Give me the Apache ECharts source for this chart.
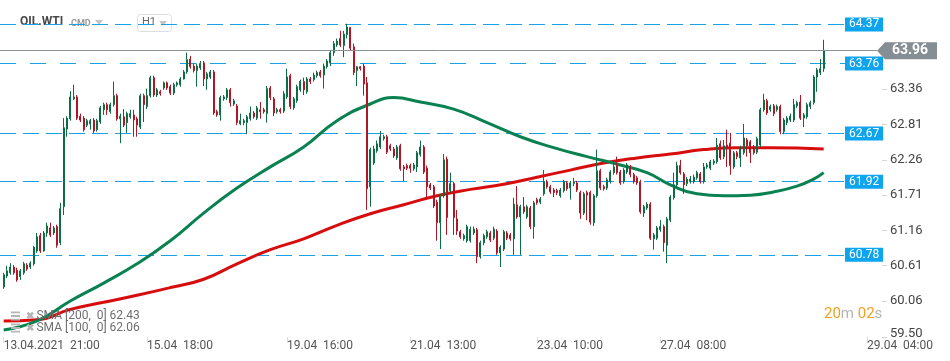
<!DOCTYPE html>
<html>
<head>
<meta charset="utf-8">
<script src="https://cdn.jsdelivr.net/npm/echarts@6/dist/echarts.min.js"></script>
<style>
html,body{margin:0;padding:0;background:#fff;}
#chart{width:950px;height:361px;}
</style>
</head>
<body>
<div id="chart"></div>
<script>
// hourly candles: [open, close, low, high]
const candles = [
[60.28,60.47,60.25,60.50],[60.45,60.53,60.42,60.61],[60.50,60.59,60.47,60.65],[60.59,60.50,60.47,60.62],[60.54,60.39,60.36,60.58],
[60.44,60.53,60.39,60.56],[60.50,60.64,60.47,60.67],[60.62,60.56,60.53,60.65],[60.59,60.65,60.56,60.68],[60.64,60.90,60.61,60.92],
[60.84,61.06,60.81,61.12],[61.08,60.84,60.81,61.12],[60.84,61.12,60.83,61.15],[61.12,61.23,61.06,61.28],[61.20,61.09,61.06,61.28],
[61.12,61.20,61.09,61.23],[61.22,60.93,60.89,61.25],[60.97,61.50,60.93,61.59],[61.53,62.76,61.40,62.91],[62.74,62.91,62.62,62.94],
[62.90,63.24,62.87,63.33],[63.21,63.24,63.19,63.43],[63.24,62.91,62.88,63.27],[62.94,62.88,62.85,62.98],[62.91,62.73,62.70,62.94],
[62.80,62.87,62.77,62.90],[62.82,62.87,62.73,62.90],[62.88,62.71,62.68,62.91],[62.73,62.87,62.70,62.90],[62.85,63.07,62.82,63.10],
[63.04,63.12,62.96,63.15],[63.12,63.04,62.96,63.15],[63.01,63.12,62.98,63.15],[63.12,63.26,63.09,63.48],[63.26,62.90,62.87,63.29],
[62.90,62.94,62.52,62.98],[62.93,62.80,62.77,63.05],[62.84,62.98,62.68,63.01],[62.93,62.98,62.90,63.04],[62.96,62.88,62.62,63.04],
[62.90,62.80,62.62,62.93],[62.77,63.26,62.74,63.29],[63.26,63.12,62.85,63.29],[63.09,63.26,63.05,63.37],[63.26,63.54,63.23,63.57],
[63.54,63.27,63.24,63.57],[63.27,63.35,63.24,63.38],[63.32,63.29,63.26,63.35],[63.38,63.46,63.35,63.48],[63.46,63.38,63.35,63.48],
[63.40,63.30,63.27,63.43],[63.30,63.43,63.27,63.46],[63.43,63.46,63.40,63.48],[63.43,63.52,63.40,63.55],[63.52,63.63,63.51,63.66],
[63.63,63.82,63.60,63.93],[63.83,63.71,63.68,63.88],[63.72,63.65,63.62,63.76],[63.65,63.72,63.40,63.76],[63.69,63.76,63.66,63.80],
[63.77,63.52,63.41,63.80],[63.52,63.60,63.35,63.63],[63.55,63.63,63.52,63.66],[63.63,62.99,62.96,63.66],[63.01,62.96,62.93,63.04],
[62.96,63.23,62.87,63.26],[63.21,63.24,63.18,63.27],[63.23,63.35,63.19,63.38],[63.35,63.15,63.09,63.38],[63.13,63.18,63.10,63.21],
[63.10,62.84,62.80,63.13],[62.82,62.87,62.80,62.98],[62.84,62.87,62.80,62.90],[62.84,62.93,62.66,62.96],[62.90,62.99,62.87,63.09],
[62.99,62.93,62.90,63.02],[62.91,63.07,62.88,63.10],[63.04,63.01,62.90,63.16],[63.04,63.01,62.98,63.07],[62.98,63.37,62.84,63.41],
[63.38,63.23,63.19,63.41],[63.21,62.99,62.94,63.24],[63.01,63.04,62.98,63.07],[63.04,63.01,62.98,63.07],[63.02,63.29,62.99,63.33],
[63.24,63.55,63.21,63.68],[63.57,63.09,63.05,63.60],[63.07,63.21,63.04,63.24],[63.18,63.40,63.15,63.43],[63.35,63.48,63.32,63.51],
[63.48,63.35,63.27,63.54],[63.32,63.52,63.29,63.55],[63.52,63.48,63.44,63.55],[63.51,63.58,63.48,63.62],[63.57,63.62,63.54,63.65],
[63.63,63.57,63.54,63.66],[63.58,63.72,63.37,63.76],[63.71,63.80,63.68,63.83],[63.77,63.93,63.72,63.96],[63.93,64.07,63.88,64.11],
[64.05,64.11,64.02,64.15],[64.15,64.05,64.02,64.27],[64.04,64.22,63.86,64.27],[64.21,64.33,64.15,64.38],[64.32,64.00,63.96,64.33],
[64.02,63.62,63.58,64.07],[63.65,63.71,63.41,63.72],[63.71,63.68,63.65,63.72],[63.72,63.44,63.26,63.76],[63.46,61.81,61.48,63.55],
[61.84,62.42,61.53,62.45],[62.21,62.43,62.18,62.48],[62.40,62.51,62.37,62.56],[62.46,62.62,62.43,62.71],[62.59,62.62,62.56,62.65],
[62.62,62.38,62.35,62.65],[62.48,62.43,62.40,62.51],[62.43,62.32,62.29,62.46],[62.29,62.46,62.26,62.49],[62.48,62.12,62.09,62.51],
[62.15,62.12,61.93,62.18],[62.17,62.13,62.10,62.20],[62.17,62.13,62.06,62.20],[62.12,62.18,62.09,62.21],[62.15,62.37,62.07,62.40],
[62.34,62.46,62.31,62.56],[62.46,62.07,62.04,62.49],[62.13,61.84,61.68,62.17],[61.87,61.82,61.79,61.90],[61.84,61.54,61.51,61.87],
[61.60,61.28,61.00,61.64],[61.28,61.70,60.87,61.73],[61.70,62.26,61.67,62.35],[62.27,61.36,61.09,62.31],[61.78,61.89,61.75,62.06],
[61.89,61.36,61.09,61.92],[61.34,61.15,61.09,61.48],[61.14,61.06,61.03,61.17],[61.03,61.08,61.00,61.11],[61.00,61.22,60.97,61.25],
[61.00,61.18,60.97,61.22],[61.12,61.18,61.09,61.22],[61.17,60.75,60.65,61.20],[60.75,60.97,60.72,61.00],[60.97,61.08,60.93,61.11],
[61.06,61.14,61.03,61.17],[61.12,61.01,60.98,61.15],[61.04,61.18,61.01,61.22],[61.15,60.81,60.78,61.18],[60.81,60.90,60.59,60.93],
[60.87,61.14,60.84,61.17],[61.12,61.04,61.01,61.15],[61.09,61.03,61.00,61.12],[61.03,61.57,60.78,61.67],[61.56,61.37,61.34,61.85],
[61.37,61.53,60.78,61.56],[61.53,61.45,61.42,61.68],[61.37,61.53,61.34,61.56],[61.51,61.22,61.18,61.54],[61.22,61.59,61.03,61.62],
[61.64,61.59,61.56,61.67],[61.60,61.65,61.57,61.68],[61.73,61.92,61.70,62.10],[61.92,61.84,61.81,61.95],[61.84,61.76,61.73,61.87],
[61.79,61.75,61.68,61.82],[61.78,61.75,61.71,61.81],[61.70,61.79,61.67,61.82],[61.78,61.92,61.75,61.95],[61.90,61.81,61.78,61.93],
[61.82,61.90,61.64,61.93],[61.89,61.92,61.85,61.98],[61.90,61.79,61.76,61.93],[61.75,61.43,61.34,61.78],[61.43,61.73,61.40,61.76],
[61.75,61.71,61.32,61.78],[61.75,61.29,61.25,61.78],[61.28,61.70,61.23,61.73],[61.70,62.09,61.67,62.42],[62.09,61.82,61.79,62.12],
[61.84,61.81,61.78,61.87],[61.82,61.95,61.79,61.98],[61.92,62.07,61.89,62.10],[62.06,62.15,62.03,62.23],[62.17,62.06,62.03,62.31],
[62.07,61.90,61.87,62.10],[61.92,62.10,61.89,62.13],[62.07,62.18,62.04,62.21],[62.15,62.03,61.99,62.18],[62.03,61.92,61.89,62.06],
[61.98,61.90,61.87,62.01],[61.92,61.45,61.42,61.95],[61.43,61.53,61.37,61.56],[61.51,61.57,61.48,61.60],[61.57,61.04,61.01,61.60],
[61.03,61.09,60.86,61.12],[61.04,61.20,61.01,61.23],[61.17,61.22,61.14,61.32],[61.22,60.97,60.83,61.25],[60.93,61.34,60.65,61.37],
[61.32,61.68,61.29,61.71],[61.67,61.87,61.64,62.06],[61.87,62.17,61.84,62.23],[62.17,62.06,62.03,62.26],[62.04,61.87,61.73,62.07],
[61.89,61.96,61.85,61.99],[61.92,61.96,61.89,62.01],[61.92,61.99,61.89,62.03],[61.98,62.06,61.95,62.09],[62.04,61.92,61.89,62.07],
[61.92,62.15,61.89,62.21],[62.15,62.18,62.12,62.21],[62.13,62.23,62.10,62.26],[62.21,62.24,62.18,62.27],[62.23,62.49,62.20,62.60],
[62.51,62.29,62.26,62.56],[62.31,62.48,62.27,62.57],[62.49,62.46,62.15,62.73],[62.52,62.17,62.03,62.68],[62.15,62.37,62.12,62.40],
[62.37,62.31,62.27,62.40],[62.29,62.45,62.15,62.48],[62.37,62.60,62.34,62.82],[62.57,62.48,62.31,62.60],[62.54,62.37,62.21,62.57],
[62.46,62.37,62.34,62.49],[62.38,62.59,62.35,62.62],[62.49,63.04,62.46,63.07],[63.04,63.19,63.01,63.29],[63.18,62.99,62.96,63.21],
[63.04,63.09,63.01,63.12],[63.10,62.98,62.94,63.13],[63.04,63.09,63.01,63.12],[63.09,62.70,62.66,63.12],[62.70,62.88,62.66,62.91],
[62.84,62.91,62.80,62.94],[62.88,62.94,62.85,62.98],[62.88,63.12,62.85,63.21],[63.10,63.15,63.07,63.18],[63.16,62.91,62.88,63.27],
[62.91,62.96,62.77,62.99],[62.93,63.12,62.90,63.15],[63.09,63.15,63.05,63.18],[63.15,63.55,63.12,63.58],[63.55,63.66,63.32,63.69],
[63.62,63.68,63.58,63.83],[63.68,63.96,63.63,64.13]
];
const futureSlots = 17;

// moving averages sampled at candle index: [index, value]
const sma200 = [[0,59.75],[10,59.77],[20,59.93],[30,60.04],[40,60.15],[50,60.27],[60,60.40],[70,60.64],[80,60.86],[90,61.03],
[100,61.24],[110,61.42],[120,61.56],[130,61.70],[140,61.80],[150,61.88],[160,61.99],[170,62.10],[180,62.21],[190,62.29],
[200,62.35],[210,62.42],[220,62.45],[230,62.45],[246,62.43]];
const sma100 = [[0,59.61],[10,59.75],[20,60.06],[30,60.34],[40,60.64],[50,61.00],[60,61.43],[70,61.82],[80,62.15],[90,62.46],
[100,62.87],[110,63.13],[117,63.23],[125,63.16],[135,63.05],[145,62.84],[155,62.62],[165,62.45],[175,62.31],[185,62.18],
[193,62.06],[200,61.87],[208,61.73],[216,61.70],[224,61.71],[231,61.76],[238,61.85],[243,61.96],[246,62.06]];

const levelLines = [64.37, 63.76, 62.67, 61.92, 60.78];
const lastPrice = 63.96;
const yTickValues = [59.50, 60.06, 60.61, 61.16, 61.71, 62.26, 62.81, 63.36];
const xTickIndex = [0, 43, 85, 122, 160, 197, 259];
const xTickText = ['13.04.2021  21:00', '15.04  18:00', '19.04  16:00', '21.04  13:00', '23.04  10:00', '27.04  08:00', '29.04  04:00'];
const smaNames = ['SMA [200,  0] 62.43', 'SMA [100,  0] 62.06'];

const categories = [];
for (let i = 0; i < candles.length + futureSlots; i++) categories.push(String(i));

const FONT = 'Roboto, "Noto Sans", sans-serif';
const LEVEL_BLUE = '#1aa0e8';
const chart = echarts.init(document.getElementById('chart'), null, {renderer: 'canvas'});

const levelData = levelLines.map(function (v, k) {
  const a = {x: 0, yAxis: v};
  if (k === 1) a.lineStyle = {color: LEVEL_BLUE, width: 1, type: [16, 14]};
  return [a, {x: 845, yAxis: v, label: {formatter: v.toFixed(2)}}];
});

const option = {
  animation: false,
  backgroundColor: '#fff',
  textStyle: {fontFamily: FONT},
  grid: {left: 2, right: 68, top: 0, bottom: 24, containLabel: false},
  legend: {
    orient: 'vertical', left: 6, top: 305, itemGap: 0,
    itemWidth: 10, itemHeight: 9,
    icon: 'path://M0,0H10V2H0Z M0,4H10V6H0Z M0,8H10V10H0Z',
    itemStyle: {color: '#b5b5b5'},
    selectedMode: false,
    data: smaNames,
    formatter: function (n) { return '{x|✖} ' + n; },
    textStyle: {color: '#6f6f6f', fontSize: 12, fontFamily: FONT,
      rich: {x: {color: '#b5b5b5', fontSize: 10, fontWeight: 'bold'}}}
  },
  xAxis: {
    type: 'category', data: categories, boundaryGap: true,
    axisLine: {show: false},
    axisTick: {show: true, alignWithLabel: true, length: 6, lineStyle: {color: '#dcdcdc'},
      interval: function (idx) { return xTickIndex.indexOf(idx) >= 0; }},
    axisLabel: {
      interval: function (idx) { return xTickIndex.indexOf(idx) >= 0; },
      formatter: function (val, idx) { const k = xTickIndex.indexOf(idx); return k >= 0 ? xTickText[k] : ''; },
      align: 'left', color: '#555', fontSize: 12, margin: 3, fontFamily: FONT
    },
    splitLine: {show: false}
  },
  yAxis: {
    type: 'value', position: 'right', min: 59.50, max: 64.75, scale: true,
    axisLine: {show: false},
    axisTick: {show: true, length: 5, lineStyle: {color: '#d6d6d6'}, customValues: yTickValues},
    axisLabel: {
      customValues: yTickValues, margin: 8, color: '#444', fontSize: 13, fontFamily: FONT,
      formatter: function (v) { return Math.abs(v - 59.5) < 1e-6 ? '{lo|' + v.toFixed(2) + '}' : v.toFixed(2); },
      rich: {lo: {padding: [0, 0, 7, 0], color: '#444', fontSize: 13, fontFamily: FONT}}
    },
    splitLine: {show: false}
  },
  series: [
    {
      name: smaNames[0], type: 'line', data: sma200, smooth: true, showSymbol: false, z: 2,
      lineStyle: {color: '#d70d0d', width: 3}, itemStyle: {color: '#d70d0d'},
      markLine: {
        silent: true, symbol: 'none', animation: false, z: 1,
        lineStyle: {color: LEVEL_BLUE, width: 1, type: [16, 7]},
        label: {show: true, position: 'end', distance: 0, color: '#fff', backgroundColor: '#0ea5ee',
          fontSize: 12, padding: [1, 4, 1, 4], fontFamily: FONT},
        data: levelData
      }
    },
    {
      name: smaNames[1], type: 'line', data: sma100, smooth: true, showSymbol: false, z: 2,
      lineStyle: {color: '#0a8150', width: 3}, itemStyle: {color: '#0a8150'}
    },
    {
      name: 'OIL.WTI', type: 'candlestick', data: candles, z: 3, barWidth: 1.8, clip: false,
      itemStyle: {color: '#16905d', color0: '#dc2233', borderColor: '#0d6e46', borderColor0: '#b01624', borderWidth: 1},
      markLine: {
        silent: true, symbol: 'none', animation: false,
        lineStyle: {type: 'solid', color: '#8a9296', width: 1},
        label: {show: false},
        data: [[{x: 0, yAxis: lastPrice}, {x: 877, yAxis: lastPrice}]]
      },
      markPoint: {
        silent: true, animation: false,
        data: [{
          x: 907, yAxis: lastPrice,
          symbol: 'path://M0,8.5 L8,0 L60,0 L60,17 L8,17 Z', symbolSize: [60, 17],
          itemStyle: {color: '#858e93'},
          label: {show: true, formatter: lastPrice.toFixed(2), color: '#fff', fontSize: 14, fontWeight: 'bold',
            offset: [3, 0], fontFamily: FONT}
        }]
      }
    }
  ],
  graphic: [
    {type: 'text', left: 20, top: 16, style: {text: 'OIL.WTI', fill: '#4a4a4a', font: 'bold 12px ' + FONT}},
    {type: 'text', left: 71, top: 19, style: {text: 'CMD', fill: '#9a9a9a', font: 'bold 9px ' + FONT}},
    {type: 'polygon', shape: {points: [[95, 20], [103, 20], [99, 25]]}, style: {fill: '#c4c4c4'}},
    {type: 'rect', shape: {x: 137.5, y: 14.5, width: 34, height: 17, r: 3}, style: {fill: 'none', stroke: '#dedede', lineWidth: 1}},
    {type: 'text', left: 142, top: 17, style: {text: 'H1', fill: '#666', font: '11px ' + FONT}},
    {type: 'polygon', shape: {points: [[159, 21], [167, 21], [163, 26]]}, style: {fill: '#c4c4c4'}},
    {type: 'text', left: 824, top: 307, style: {
      text: '{o|20}{g|m} {o|02}{g|s}', font: '15px ' + FONT,
      rich: {o: {fill: '#f5a020', font: '15px ' + FONT}, g: {fill: '#b5b5b5', font: '15px ' + FONT}}
    }}
  ]
};
chart.setOption(option);
</script>
</body>
</html>
